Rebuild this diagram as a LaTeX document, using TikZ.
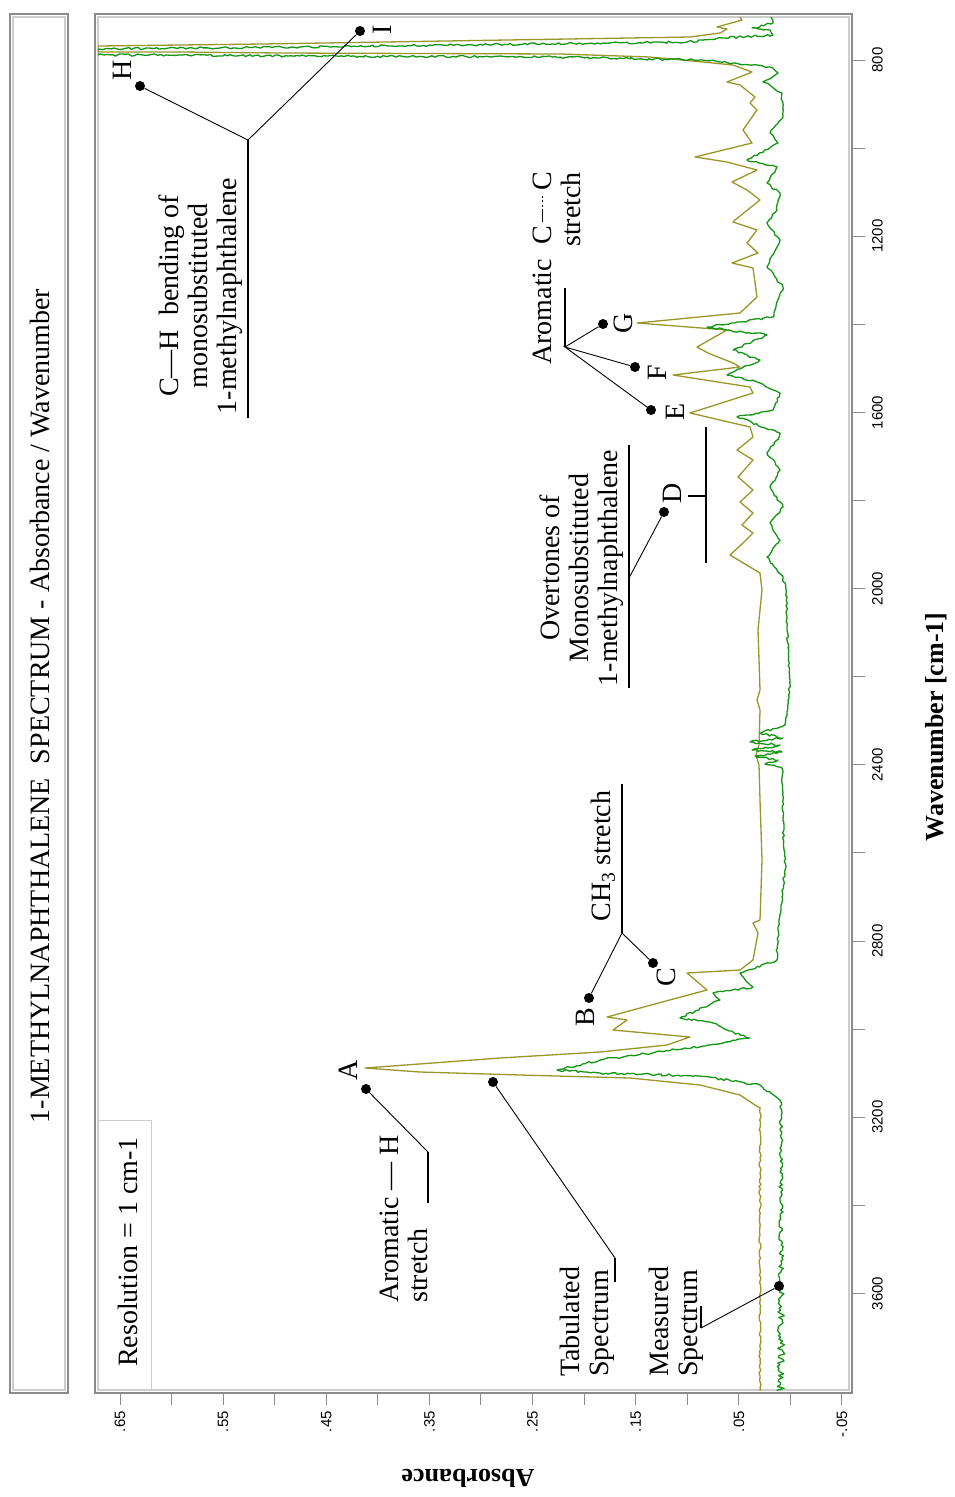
\documentclass[tikz,border=0pt]{standalone}
\usepackage{fontspec}
\setmainfont{Liberation Serif}
\newfontfamily\tickfont{Liberation Sans}
\usetikzlibrary{decorations.pathmorphing}
\definecolor{tabcol}{RGB}{155,150,40}
\definecolor{meascol}{RGB}{20,150,20}
\definecolor{framea}{RGB}{140,140,140}
\definecolor{frameb}{RGB}{205,205,205}
\newcommand{\bigtxt}{\fontsize{28}{29}\selectfont}
\newcommand{\aromCC}{C\,\rule[.3em]{.45em}{1.3pt}\kern.08em\rule[.3em]{.08em}{1.3pt}\kern.08em\rule[.3em]{.08em}{1.3pt}\kern.08em\rule[.3em]{.08em}{1.3pt}\,C}
\begin{document}
\begin{tikzpicture}[x=1pt,y=-1pt,
  ann/.style={rotate=90, inner sep=0pt, font=\bigtxt},
  lbl/.style={rotate=90, inner sep=0pt, font=\bigtxt},
  dot/.style={circle, fill=black, inner sep=0pt, minimum size=10pt},
  leader/.style={black, line width=0.9pt},
  uline/.style={black, line width=1.2pt},
  tickmark/.style={framea, line width=1pt},
  ticklab/.style={rotate=90, inner sep=0pt, font=\tickfont\fontsize{15}{15}\selectfont},
  tab/.style={tabcol, line width=1.3pt, line join=round},
  meas/.style={meascol, line width=1.3pt, line join=round},
  measj/.style={meas, decorate, decoration={random steps, segment length=3pt, amplitude=1.1pt}}
]
\pgfmathsetseed{7}
\useasboundingbox (0,0) rectangle (954,1497);
\fill[white] (0,0) rectangle (954,1497);

% title frame
\draw[framea, line width=1.2pt] (10,14) rectangle (68,1393);
\draw[frameb, line width=1.2pt] (13,17) rectangle (65,1390);
\node[ann] (title) at (40,706) {1-METHYLNAPHTHALENE~ SPECTRUM - Absorbance / Wavenumber};

% plot frame
\draw[framea, line width=1.2pt] (95,14) rectangle (852,1393);
\draw[frameb, line width=1.2pt] (98,17) rectangle (849,1390);

% resolution box
\coordinate (r1) at (98,1120);
\coordinate (r2) at (151,1120);
\coordinate (r3) at (151,1390);
\draw[frameb, line width=1pt] (r1) -- (r2) -- (r3);
\node[ann] (res) at (128,1252) {Resolution = 1 cm-1};

% absorbance ticks
\foreach \i in {0,...,14} {
  \pgfmathsetmacro\xx{120+\i*51.57}
  \draw[tickmark] (\xx,1393) -- (\xx,1405);
}
\foreach \lab [count=\i from 0] in {.65,.55,.45,.35,.25,.15,.05,-.05} {
  \pgfmathsetmacro\xx{120+\i*103.14}
  \node[ticklab, anchor=east] (al\i) at (\xx,1411) {\lab};
}
\node[rotate=180, font=\bfseries\fontsize{26}{26}\selectfont] (abs) at (468,1478) {Absorbance};

% wavenumber ticks
\foreach \i in {0,...,14} {
  \pgfmathsetmacro\yy{60+\i*88.1}
  \draw[tickmark] (852,\yy) -- (865,\yy);
}
\foreach \lab [count=\i from 0] in {800,1200,1600,2000,2400,2800,3200,3600} {
  \pgfmathsetmacro\yy{60+\i*176.2}
  \node[ticklab, anchor=north] (wl\i) at (872,\yy) {\lab};
}
\node[rotate=90, font=\bfseries\fontsize{26}{26}\selectfont] (wav) at (936,727) {Wavenumber [cm-1]};

% spectra
\begin{scope}
\clip (98,17) rectangle (849,1390);
\draw[tab] (738,14) -- (742,20) -- (717,27) -- (727,29) -- (720,33) -- (690,37) -- (263,44) -- (98,46) -- (98,52) -- (180,52) -- (280,53) -- (560,54) -- (650,57) -- (703,62) -- (733,65) -- (752,72) -- (727,82) -- (740,85) -- (755,97) -- (750,103) -- (757,110) -- (743,130) -- (752,143) -- (695,157) -- (727,162) -- (757,170) -- (732,182) -- (747,190) -- (760,200) -- (735,220) -- (733,222) -- (757,230) -- (747,243) -- (758,253) -- (732,263) -- (753,268) -- (757,297) -- (740,313) -- (637,323) -- (727,330) -- (697,347) -- (708,353) -- (733,363) -- (740,367) -- (673,375) -- (750,387) -- (753,393) -- (690,413) -- (750,427) -- (753,437) -- (737,450) -- (753,460) -- (738,477) -- (753,490) -- (740,502) -- (753,513) -- (742,525) -- (753,533) -- (743,543) -- (730,555) -- (760,573) -- (762,590) -- (758,630) -- (760,690) -- (757,700) -- (760,710) -- (759,745) -- (756,755) -- (759,765) -- (760,800) -- (762,860) -- (760,920) -- (753,923) -- (758,933) -- (753,960) -- (740,970) -- (687,973) -- (707,990) -- (677,998) -- (607,1017) -- (627,1020) -- (613,1030) -- (690,1037) -- (667,1045) -- (600,1052) -- (500,1058) -- (365,1068) -- (420,1072) -- (520,1075) -- (630,1078) -- (700,1085) -- (740,1095) -- (755,1105) -- plot[domain=1108:1392, samples=120] ({760+1.0*rand}, \x);
\draw[measj] (770,14) -- (773,23) -- (752,28) -- (770,30) -- (773,35) -- (723,38) -- (687,42) -- (300,47) -- (98,49) -- (98,55) -- (183,55) -- (300,56) -- (560,57) -- (700,60) -- (733,63) -- (770,67) -- (778,73) -- (763,82) -- (782,93) -- (783,117) -- (770,133) -- (778,143) -- (747,160) -- (777,167) -- (767,183) -- (780,193) -- (777,210) -- (767,223) -- (770,228) -- (780,240) -- (767,267) -- (783,287) -- (773,317) -- (707,327) -- (767,335) -- (733,350) -- (760,360) -- (727,375) -- (760,383) -- (780,393) -- (773,410) -- (737,417) -- (780,433) -- (777,440) -- (767,453) -- (780,470) -- (770,487) -- (783,507) -- (770,523) -- (780,540) -- (767,557) -- (783,577) -- (787,597) -- (787,630) -- (790,680) -- (788,700) -- (785,725) -- (760,733) -- (783,738) -- (750,742) -- (780,745) -- (752,750) -- (782,752) -- (755,756) -- (778,760) -- (765,764) -- (782,768) -- (783,820) -- (785,870) -- (778,927) -- (777,960) -- (740,973) -- (753,987) -- (713,993) -- (720,1000) -- (680,1018) -- (713,1023) -- (727,1030) -- (750,1038) -- (723,1043) -- (600,1060) -- (557,1070) -- (600,1073) -- (700,1076) -- (760,1085) -- (780,1100);
\draw[meas] (780,1100) -- plot[domain=1103:1392, samples=160] ({781+(1.2+(\x-1100)/100)*rand}, \x);
\end{scope}

% ---- annotations ----
% H and I
\node[dot] (dH) at (140,86) {};
\node[dot] (dI) at (360,31) {};
\node[lbl] (lH) at (122,70) {H};
\node[lbl] (lI) at (382,30) {I};
\coordinate (jHI) at (248,140);
\coordinate (uHI) at (248,418);
\draw[leader] (dH) -- (jHI) -- (dI);
\draw[uline] (jHI) -- (uHI);
\node[ann, align=center] (tCH) at (201,296) {C—H~ bending of\\monosubstituted\\1-methylnaphthalene};

% E F G
\node[dot] (dE) at (651,410) {};
\node[dot] (dF) at (635,367) {};
\node[dot] (dG) at (603,324) {};
\node[lbl] (lE) at (675,412) {E};
\node[lbl] (lF) at (657,373) {F};
\node[lbl] (lG) at (623,323) {G};
\coordinate (jEFG) at (565,347);
\coordinate (uEFG) at (565,288);
\draw[leader] (dE) -- (jEFG) -- (dF);
\draw[leader] (dG) -- (jEFG);
\draw[uline] (jEFG) -- (uEFG);
\node[ann, align=right, anchor=east] (tCC) at (557,172) {Aromatic~ \aromCC\\stretch};

% D
\node[dot] (dD) at (664,512) {};
\node[lbl] (lD) at (672,493) {D};
\coordinate (jD) at (629,578);
\coordinate (uD1) at (629,445);
\coordinate (uD2) at (629,688);
\draw[leader] (dD) -- (jD);
\draw[uline] (uD1) -- (uD2);
\node[ann, align=center] (tOv) at (582,568) {Overtones of\\Monosubstituted\\1-methylnaphthalene};
\coordinate (bk1) at (706,427);
\coordinate (bk2) at (706,563);
\coordinate (bk3) at (706,496);
\coordinate (bk4) at (688,496);
\draw[black, line width=2.6pt] (bk1) -- (bk2);
\draw[black, line width=2.6pt] (bk3) -- (bk4);

% B C
\node[dot] (dB) at (589,998) {};
\node[dot] (dC) at (653,963) {};
\node[lbl] (lB) at (585,1017) {B};
\node[lbl] (lC) at (666,977) {C};
\coordinate (jBC) at (622,933);
\coordinate (uBC) at (622,784);
\draw[leader] (dB) -- (jBC) -- (dC);
\draw[uline] (jBC) -- (uBC);
\node[ann] (tCH3) at (603,856) {CH\textsubscript{3} stretch};

% A
\node[dot] (dA) at (366,1089) {};
\node[lbl] (lA) at (348,1070) {A};
\coordinate (jA) at (428,1152);
\coordinate (uA) at (428,1203);
\draw[leader] (dA) -- (jA);
\draw[uline] (jA) -- (uA);
\node[ann, align=left, anchor=west] (tAH) at (404,1303) {Aromatic — H\\stretch};

% Tabulated
\node[dot] (dT) at (493,1082) {};
\coordinate (jT) at (615,1258);
\coordinate (uT) at (615,1282);
\draw[leader] (dT) -- (jT);
\draw[uline] (jT) -- (uT);
\node[ann, align=left, anchor=west] (tTab) at (587,1377) {Tabulated\\Spectrum};

% Measured
\node[dot] (dM) at (779,1286) {};
\coordinate (jM) at (701,1328);
\coordinate (uM) at (701,1306);
\draw[leader] (dM) -- (jM);
\draw[uline] (jM) -- (uM);
\node[ann, align=left, anchor=west] (tMeas) at (676,1377) {Measured\\Spectrum};
\end{tikzpicture}
\end{document}
